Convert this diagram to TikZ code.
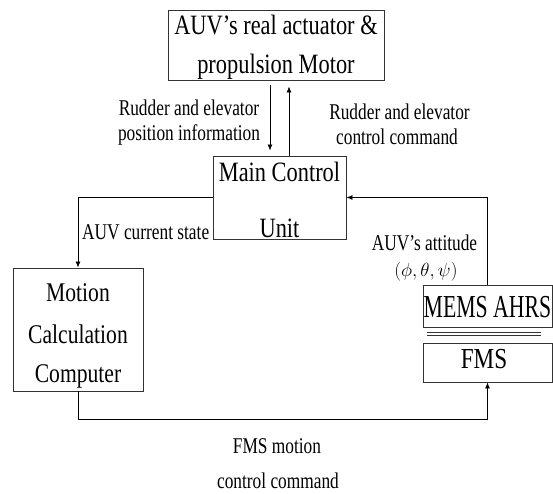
\RequirePackage{fix-cm}
\documentclass[tikz,border=0pt]{standalone}
\usepackage{fontspec}
\setmainfont{Liberation Serif}
\newfontfamily\bxf{Liberation Serif}[FakeStretch=0.8]
\newfontfamily\lbf{Liberation Serif}[FakeStretch=0.77]
\newfontfamily\msf{Liberation Serif}[FakeStretch=0.68]
\usetikzlibrary{arrows.meta}
\begin{document}
\begin{tikzpicture}[x=1pt,y=-1pt,
  box/.style={draw=black!80, line width=0.9pt, inner sep=0pt},
  bt/.style={anchor=base, inner sep=0pt, font=\bxf\fontsize{28}{28}\selectfont},
  lt/.style={anchor=base, inner sep=0pt, font=\lbf\fontsize{22.5}{22.5}\selectfont},
  conn/.style={line width=0.8pt, -{Latex[length=6pt,width=5pt]}}]
\useasboundingbox (0,0) rectangle (553,494);

% boxes
\node[box, minimum width=216pt, minimum height=70pt] (act) at (276,45) {};
\node[box, minimum width=133pt, minimum height=83pt] (main) at (279.5,197.5) {};
\node[box, minimum width=130pt, minimum height=123pt] (motion) at (78,329.5) {};
\node[box, minimum width=129pt, minimum height=42pt] (mems) at (487.5,306) {};
\node[box, minimum width=129pt, minimum height=39pt] (fms) at (487.5,362.5) {};

% box texts
\node[bt] (t1) at (276,35) {AUV’s real actuator \&};
\node[bt] (t2) at (276,74) {propulsion Motor};
\node[bt] (t3) at (279.5,182) {Main Control};
\node[bt] (t4) at (279.5,237) {Unit};
\node[bt, font=\bxf\fontsize{27}{27}\selectfont] (t5) at (78,301) {Motion};
\node[bt, font=\bxf\fontsize{27}{27}\selectfont] (t6) at (78,343) {Calculation};
\node[bt, font=\bxf\fontsize{27}{27}\selectfont] (t7) at (78,382) {Computer};
\node[bt, font=\msf\fontsize{32}{32}\selectfont] (t8) at (487.5,317) {MEMS AHRS};
\node[bt, font=\bxf\fontsize{29}{29}\selectfont] (t9) at (484,368) {FMS};

% double separator
\draw[line width=0.8pt, black!80] (427,332) -- (541,332);
\draw[line width=0.8pt, black!80] (427,335.5) -- (541,335.5);

% connectors
\draw[conn] ([xshift=-6pt,yshift=-5pt]act.south) -- ([xshift=-9.5pt,yshift=5pt]main.north);
\draw[conn] ([xshift=9.5pt]main.north) -- ([xshift=13pt,yshift=-6pt]act.south);
\draw[conn] (main.west) -| (motion.north);
\draw[conn] (mems.north) |- (main.east);
\draw[conn] (motion.south) -- ++(0,28) coordinate (bl) -| (fms.south);

% labels
\node[lt] (l1) at (189,116) {Rudder and elevator};
\node[lt] (l2) at (189,141) {position information};
\node[lt] (r1) at (399.5,120) {Rudder and elevator};
\node[lt] (r2) at (397,145) {control command};
\node[lt, anchor=base west] (l3) at (82,239) {AUV current state};
\node[lt] (a1) at (424.5,250) {AUV’s attitude};
\node[lt, font=\fontsize{19}{19}\selectfont] (a2) at (426,276) {$(\phi,\theta,\psi)$};
\node[lt] (f1) at (277,453) {FMS motion};
\node[lt] (f2) at (278,488) {control command};
\end{tikzpicture}
\end{document}
